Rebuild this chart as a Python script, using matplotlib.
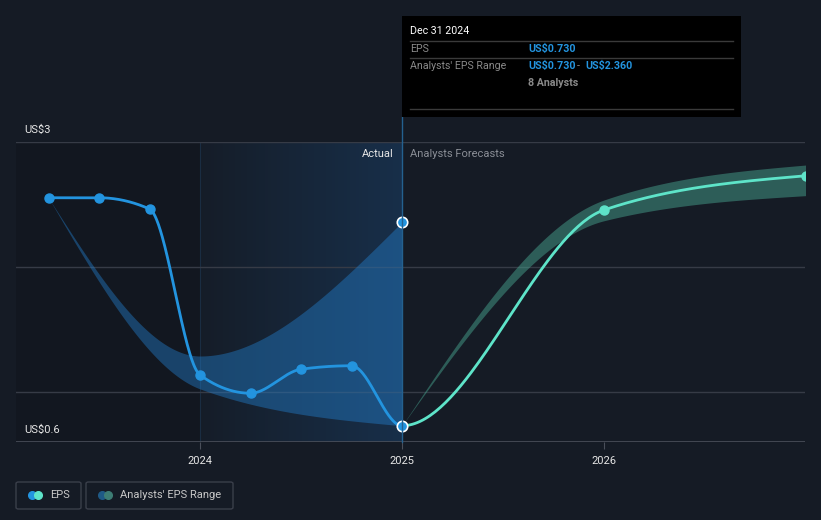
import numpy as np
import matplotlib.pyplot as plt
from matplotlib.patches import Rectangle, FancyBboxPatch
from matplotlib.lines import Line2D

plt.rcParams['font.family'] = ['Roboto', 'DejaVu Sans']

# Данные (десятичные годы)
eps_years = [2023.25, 2023.5, 2023.75, 2024.0, 2024.25, 2024.5, 2024.75, 2025.0]
eps_vals = [2.554, 2.554, 2.464, 1.136, 0.990, 1.182, 1.210, 0.730]
fc_years = [2025.0, 2026.0, 2027.0]
fc_vals = [0.730, 2.456, 2.730]

past_range_years = [2023.25, 2024.0, 2025.0]
past_range_low = [2.554, 1.025, 0.730]
past_range_high = [2.554, 1.288, 2.360]
fc_range_low = [0.730, 2.370, 2.571]
fc_range_high = [0.730, 2.536, 2.816]

y_ticks = [0.6, 3.0]
y_tick_labels = ['US$0.6', 'US$3']
x_ticks = [2024, 2025, 2026]

BG = '#151b25'
BLUE = '#2394df'
TEAL = '#5ee4c9'
GRID = '#363b46'

W, H = 821, 520


def monotone(xs, ys, n=80):
    # monotone cubic как в d3.curveMonotoneX
    xs = np.asarray(xs, float)
    ys = np.asarray(ys, float)
    h = np.diff(xs)
    s = np.diff(ys) / h
    m = len(xs)
    t = np.zeros(m)
    sgn = lambda v: -1.0 if v < 0 else 1.0
    for i in range(1, m - 1):
        p = (s[i - 1] * h[i] + s[i] * h[i - 1]) / (h[i - 1] + h[i])
        t[i] = (sgn(s[i - 1]) + sgn(s[i])) * min(abs(s[i - 1]), abs(s[i]), 0.5 * abs(p))
    if m > 2:
        t[0] = (3 * s[0] - t[1]) / 2
        t[-1] = (3 * s[-1] - t[-2]) / 2
    else:
        t[0] = t[-1] = s[0]
    out_x, out_y = [], []
    for i in range(m - 1):
        u = np.linspace(0, 1, n)
        h00 = 2 * u**3 - 3 * u**2 + 1
        h10 = u**3 - 2 * u**2 + u
        h01 = -2 * u**3 + 3 * u**2
        h11 = u**3 - u**2
        yy = h00 * ys[i] + h10 * h[i] * t[i] + h01 * ys[i + 1] + h11 * h[i] * t[i + 1]
        out_x.append(xs[i] + u * h[i])
        out_y.append(yy)
    return np.concatenate(out_x), np.concatenate(out_y)


def px(x, y):
    return x / W, 1 - y / H


fig = plt.figure(figsize=(W / 100, H / 100), dpi=100, facecolor=BG)
ax = fig.add_axes([16 / W, (H - 442) / H, 789 / W, 300 / H])
ax.set_facecolor(BG)
x0, x1 = 2024 - 184 / 202, 2026 + 201 / 202
ax.set_xlim(x0, x1)
ax.set_ylim(0.6, 3.0)
for sp in ax.spines.values():
    sp.set_visible(False)

# фон: прошлое темнее, последний год подсвечен градиентом
ax.axvspan(x0, 2024, color='black', alpha=0.13, lw=0, zorder=0)
grad = np.linspace(0, 1, 256).reshape(1, -1)
rgba = np.zeros((1, 256, 4))
rgba[..., 0], rgba[..., 1], rgba[..., 2] = 0.12, 0.38, 0.64
rgba[..., 3] = 0.03 + 0.26 * grad
ax.imshow(rgba, extent=[2024, 2025, 0.6, 3.0], aspect='auto', zorder=0.5, interpolation='bilinear')
ax.axvline(2024, color='#1a2d42', lw=0.8, zorder=0.6)

# сетка
for yv in [1.0, 2.0, 3.0]:
    ax.axhline(yv, color=GRID, lw=1, zorder=1)
ax.axhline(0.6, color='#4a4f5a', lw=1.2, zorder=1)

# диапазон аналитиков (прошлое)
bx, bl = monotone(past_range_years, past_range_low)
_, bh = monotone(past_range_years, past_range_high)
ax.fill_between(bx, bl, bh, color='#2382d2', alpha=0.42, lw=0, zorder=2)

# диапазон аналитиков (прогноз)
fx, fl = monotone(fc_years, fc_range_low)
_, fh = monotone(fc_years, fc_range_high)
ax.fill_between(fx, fl, fh, color='#46a08c', alpha=0.5, lw=0, zorder=2)

# линия EPS (одна кривая, цвет меняется на 2025)
all_years = eps_years + fc_years[1:]
all_vals = eps_vals + fc_vals[1:]
lx, ly = monotone(all_years, all_vals)
past = lx <= 2025.0
ax.plot(lx[past], ly[past], color=BLUE, lw=2.0, zorder=4, solid_capstyle='round')
ax.plot(lx[lx >= 2025.0], ly[lx >= 2025.0], color=TEAL, lw=2.0, zorder=4, solid_capstyle='round')
ax.plot(eps_years[:-1], eps_vals[:-1], 'o', color=BLUE, ms=6.5, zorder=5)
ax.plot(fc_years[1:], fc_vals[1:], 'o', color=TEAL, ms=6.5, zorder=5)

# точки выделенной даты
ax.plot([eps_years[-1]], [eps_vals[-1]], 'o', color=BLUE, ms=7.5, mec='white', mew=1.2, zorder=6)
ax.plot([past_range_years[-1]], [past_range_high[-1]], 'o', color=BLUE, ms=7.5, mec='white', mew=1.2, zorder=6)

# оси
ax.set_yticks([])
ax.set_xticks(x_ticks)
ax.set_xticklabels([str(v) for v in x_ticks], color='#e6e6e6', fontsize=8)
ax.tick_params(axis='x', length=5, color='#4a4f5a', pad=5)
for yv, lab in zip(y_ticks, y_tick_labels):
    ax.text(x0 + 8 / 202, yv + 12 * 0.008, lab, color='#e6e6e6', fontsize=8, va='center', ha='left', zorder=7)

ax.text(2025 - 8 / 202, 3.0 - 12 * 0.008, 'Actual', color='#e6e6e6', fontsize=8, ha='right', va='center')
ax.text(2025 + 8 / 202, 3.0 - 12 * 0.008, 'Analysts Forecasts', color='#8a8e96', fontsize=8, ha='left', va='center')

# вертикальная линия наведения
fig.add_artist(Line2D([402 / W, 402 / W], [1 - 117 / H, 1 - 442 / H], color='#24618f', lw=1, zorder=3))

# подсказка
fig.add_artist(Rectangle(px(402, 117), 339 / W, 101 / H, facecolor='black', edgecolor='none', zorder=10))
for yy in [41, 58, 109]:
    fig.add_artist(Line2D([410 / W, 733 / W], [1 - yy / H] * 2, color='#3a3a3a', lw=1, zorder=11))
fig.text(*px(410, 31), 'Dec 31 2024', color='white', fontsize=7.7, va='center', zorder=12)
fig.text(*px(410, 49), 'EPS', color='#8a8a8a', fontsize=7.7, va='center', zorder=12)
fig.text(*px(528, 49), 'US$0.730', color=BLUE, fontsize=7.7, va='center', fontweight='bold', zorder=12)
fig.text(*px(410, 66), "Analysts' EPS Range", color='#8a8a8a', fontsize=7.7, va='center', zorder=12)
fig.text(*px(528, 66), 'US$0.730', color=BLUE, fontsize=7.7, va='center', fontweight='bold', zorder=12)
fig.text(*px(577, 66), '-', color='#8a8a8a', fontsize=7.7, va='center', zorder=12)
fig.text(*px(585, 66), 'US$2.360', color=BLUE, fontsize=7.7, va='center', fontweight='bold', zorder=12)
fig.text(*px(528, 83), '8 Analysts', color='#8a8a8a', fontsize=7.7, va='center', fontweight='bold', zorder=12)

# легенда
for (lx0, lx1), lab, c1, c2 in [((16, 81), 'EPS', BLUE, TEAL),
                                ((86, 233), "Analysts' EPS Range", '#1f5a86', '#3d7d74')]:
    fig.add_artist(FancyBboxPatch(px(lx0, 509), (lx1 - lx0) / W, 27 / H,
                                  boxstyle='round,pad=0,rounding_size=0.003',
                                  facecolor='none', edgecolor='#3a3f4a', lw=1))
    fig.add_artist(Line2D([(lx0 + 16) / W], [1 - 495 / H], marker='o', ms=5.5, color=c1, lw=0))
    fig.add_artist(Line2D([(lx0 + 22) / W], [1 - 495 / H], marker='o', ms=5.5, color=c2, lw=0))
    fig.text((lx0 + 34) / W, 1 - 495 / H, lab, color='#c8c8c8', fontsize=8, va='center')

fig.savefig('out.png', dpi=100, facecolor=BG)
